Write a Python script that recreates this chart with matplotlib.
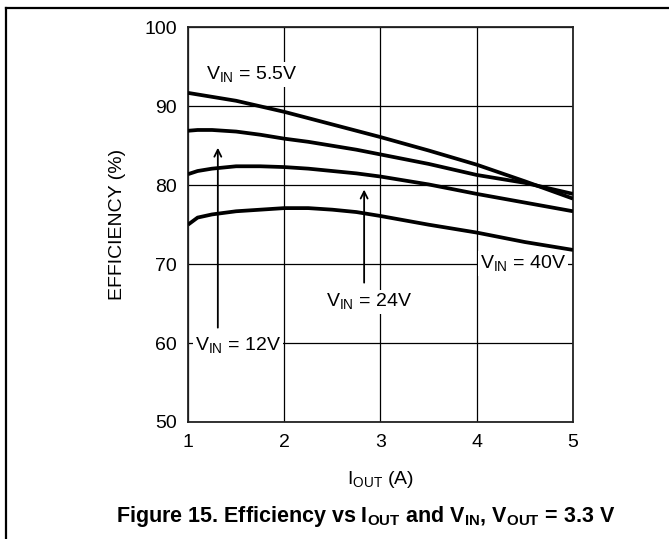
#Eficiência x corrente de saída (reprodução do gráfico)
import matplotlib
matplotlib.use('Agg')
import matplotlib.pyplot as plt
from matplotlib.lines import Line2D

plt.rcParams['font.family'] = 'Liberation Sans'
plt.rcParams['mathtext.fontset'] = 'custom'
plt.rcParams['mathtext.rm'] = 'Liberation Sans'
plt.rcParams['mathtext.bf'] = 'Liberation Sans:bold'

#Dados
iout = [1.0, 1.1, 1.25, 1.5, 1.75, 2.0, 2.25, 2.5, 2.75, 3.0, 3.5, 4.0, 4.5, 5.0]
ef_5v5 = [91.7, 91.5, 91.2, 90.7, 90.0, 89.3, 88.5, 87.7, 86.9, 86.1, 84.4, 82.6, 80.5, 78.3]
ef_12v = [86.9, 87.0, 87.0, 86.8, 86.4, 85.9, 85.5, 85.0, 84.5, 83.9, 82.7, 81.3, 80.3, 78.9]
ef_24v = [81.4, 81.8, 82.1, 82.4, 82.4, 82.3, 82.1, 81.8, 81.5, 81.1, 80.1, 78.9, 77.8, 76.7]
ef_40v = [75.0, 75.9, 76.3, 76.7, 76.9, 77.1, 77.1, 76.9, 76.6, 76.1, 75.0, 74.0, 72.8, 71.8]

xticks = [1, 2, 3, 4, 5]
yticks = [50, 60, 70, 80, 90, 100]

fig = plt.figure(figsize=(6.69, 5.39), dpi=100)
ax = fig.add_axes([0.281, 0.2171, 0.5755, 0.7321])

for ef in [ef_5v5, ef_12v, ef_24v, ef_40v]:
    ax.plot(iout, ef, color='black', lw=2.7, solid_joinstyle='round',
            solid_capstyle='butt', zorder=3)

ax.set_xlim(1, 5)
ax.set_ylim(50, 100)
ax.set_xticks(xticks)
ax.set_yticks(yticks)
ax.grid(True, color='black', lw=0.9)
ax.tick_params(length=0, labelsize=14)
ax.tick_params(axis='x', pad=9)
ax.tick_params(axis='y', pad=8)
for s in ax.spines.values():
    s.set_linewidth(1.3)
    s.set_color('#222222')

ax.set_xlabel('I$_{\\mathrm{OUT}}$ (A)', fontsize=14)
ax.set_ylabel('EFFICIENCY (%)', fontsize=14)
ax.xaxis.set_label_coords(0.5, -0.118)
ax.yaxis.set_label_coords(-0.162, 0.5)

box = dict(facecolor='white', edgecolor='none', pad=1.5)
ax.text(1.66, 94.0, 'V$_{\\mathrm{IN}}$ = 5.5V', fontsize=14, ha='center', va='center', bbox=box, zorder=4)
ax.text(1.52, 59.6, 'V$_{\\mathrm{IN}}$ = 12V', fontsize=14, ha='center', va='center', bbox=box, zorder=4)
ax.text(2.88, 65.2, 'V$_{\\mathrm{IN}}$ = 24V', fontsize=14, ha='center', va='center', bbox=box, zorder=4)
ax.text(4.48, 70.1, 'V$_{\\mathrm{IN}}$ = 40V', fontsize=14, ha='center', va='center', bbox=box, zorder=4)

arrow = dict(arrowstyle='->,head_length=0.5,head_width=0.25', color='black', lw=1.3)
ax.annotate('', xy=(1.31, 85.1), xytext=(1.31, 61.6), arrowprops=arrow, zorder=4)
ax.annotate('', xy=(2.83, 79.8), xytext=(2.83, 67.3), arrowprops=arrow, zorder=4)

fig.text(0.547, 0.042, 'Figure 15. Efficiency vs I$_{\\mathbf{OUT}}$ and V$_{\\mathbf{IN}}$, V$_{\\mathbf{OUT}}$ = 3.3 V',
         fontsize=15.5, fontweight='bold', ha='center', va='center')

#Moldura externa
fig.add_artist(Line2D([6/669, 1], [1 - 8/539, 1 - 8/539], transform=fig.transFigure, color='black', lw=1.6))
fig.add_artist(Line2D([6/669, 6/669], [0, 1 - 8/539], transform=fig.transFigure, color='black', lw=1.6))

fig.savefig('out.png', dpi=100)
